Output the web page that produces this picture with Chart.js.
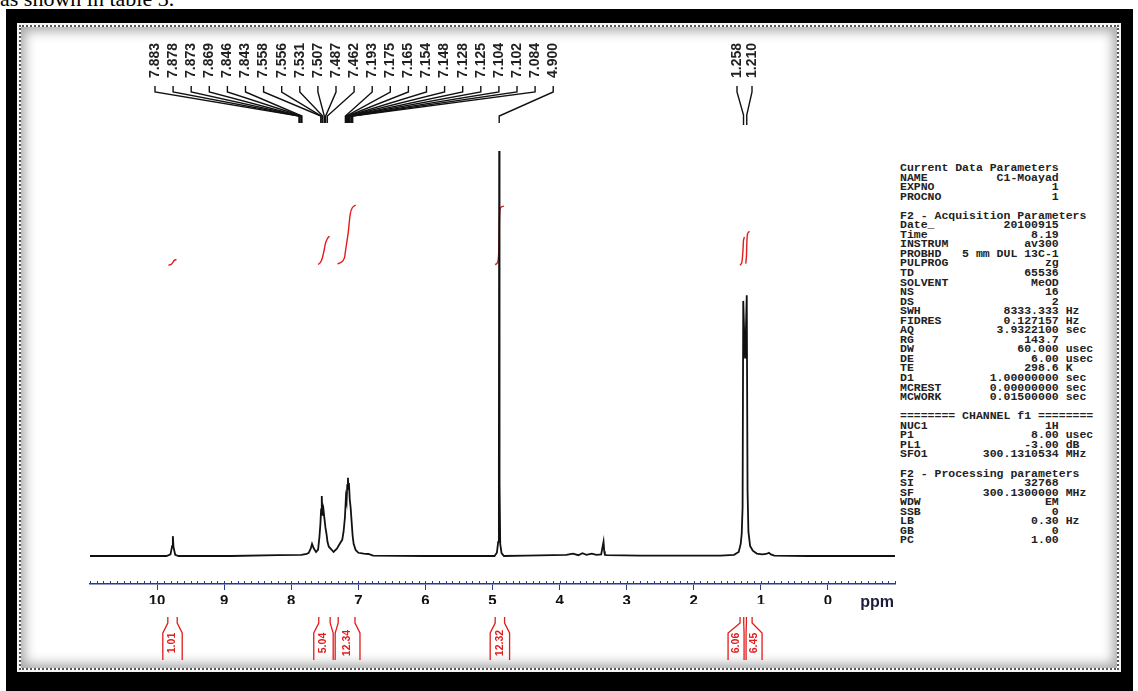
<!DOCTYPE html>
<html>
<head>
<meta charset="utf-8">
<title>1H NMR spectrum</title>
<script src="https://cdn.jsdelivr.net/npm/chart.js@4.4.1/dist/chart.umd.min.js"></script>
<style>
    html, body { margin: 0; padding: 0; background: #fff; }
    body { width: 1138px; height: 691px; position: relative; overflow: hidden; }
    .caption { position: absolute; left: 0; top: -12px; font: 22px "Liberation Serif", serif; line-height: 22px; color: #000; white-space: nowrap; }
    .frame { position: absolute; left: 6px; top: 9px; width: 1127px; height: 700px; background: #000; }
    .inner { position: absolute; left: 17px; top: 23px; width: 1100px; height: 645px; border: 2px solid #f2f2f2; }
    .inner2 { position: absolute; left: 0; top: 0; right: 0; bottom: 0; border: 2px dotted #555; background: #fff; box-shadow: inset 0 0 12px 4px rgba(0,0,0,0.35); }
    #params { position: absolute; left: 900px; top: 163px; font: bold 11.5px "Liberation Mono", monospace; line-height: 9.54px; color: #222; white-space: pre; }
    #nmrChart { position: absolute; left: 0; top: 0; }
</style>
</head>
<body>
<div class="caption">as shown in table 3.</div>
<div class="frame"></div>
<div class="inner"><div class="inner2"></div></div>
<div id="params"></div>
<canvas id="nmrChart" width="1138" height="691"></canvas>

<script>
// spectrum trace (ppm / relative intensity, 4.900 peak = 100)
const specPpm = [11.0, 10.4, 9.86, 9.80, 9.775, 9.765, 9.755, 9.73, 9.68, 8.9, 8.2, 7.85, 7.77,
    7.74, 7.71, 7.69, 7.665, 7.63, 7.60, 7.58, 7.565, 7.555, 7.545, 7.535, 7.52, 7.507, 7.49,
    7.475, 7.46, 7.44, 7.40, 7.37, 7.32, 7.27, 7.24, 7.22, 7.20, 7.185, 7.175, 7.165, 7.155,
    7.148, 7.14, 7.128, 7.115, 7.10, 7.085, 7.07, 7.04, 7.00, 6.92, 6.85, 6.78, 6.0, 5.2,
    4.97, 4.935, 4.915, 4.905, 4.900, 4.895, 4.885, 4.865, 4.83, 4.5, 3.90, 3.80, 3.72, 3.66,
    3.60, 3.52, 3.45, 3.38, 3.345, 3.335, 3.325, 3.30, 2.8, 1.6, 1.40, 1.33, 1.30, 1.285,
    1.272, 1.262, 1.248, 1.236, 1.222, 1.210, 1.198, 1.185, 1.16, 1.12, 1.06, 0.98, 0.92,
    0.88, 0.85, 0.80, 0.3, -1.0];
const specInt = [0, 0, 0, 0.4, 2.5, 4.9, 2.2, 0.3, 0, 0, 0.2, 0.3, 0.5,
    0.8, 1.8, 3.0, 1.9, 1.0, 1.6, 4.7, 8.0, 11.5, 14.8, 10.0, 11.5, 9.5, 7.0,
    5.5, 3.5, 2.3, 1.6, 1.0, 1.8, 3.2, 4.0, 6.0, 9.5, 14.5, 13.5, 17.5, 19.3,
    16.5, 18.0, 14.0, 12.0, 8.5, 5.0, 3.0, 1.5, 0.8, 0.6, 0.5, 0.1, 0, 0,
    0, 0.8, 3.5, 20.0, 100, 18.0, 3.0, 0.7, 0, 0.1, 0.3, 0.6, 0.2, 0.7,
    0.3, 0.6, 0.3, 0.4, 3.5, 1.2, 0.3, 0.2, 0.1, 0.1, 0.3, 1.0, 3.0, 5.5,
    12.0, 63.0, 55.0, 49.0, 56.0, 64.4, 16.0, 6.0, 2.5, 1.3, 0.6, 0.4, 0.5,
    0.8, 0.4, 0.1, 0, 0];

// integral curves (red), same units as the trace
const int1Ppm = [9.83, 9.79, 9.765, 9.745, 9.71];
const int1Val = [71.8, 72.0, 72.5, 73.0, 73.2];
const int2Ppm = [7.60, 7.57, 7.54, 7.51, 7.49, 7.46, 7.43];
const int2Val = [72.0, 72.4, 73.4, 75.5, 77.2, 78.4, 79.0];
const int3Ppm = [7.31, 7.25, 7.21, 7.19, 7.15, 7.12, 7.09, 7.04];
const int3Val = [72.1, 72.6, 73.5, 75.5, 80.0, 84.5, 86.0, 86.7];
const int4Ppm = [4.96, 4.925, 4.91, 4.90, 4.89, 4.87, 4.83];
const int4Val = [71.9, 72.5, 74.0, 80.0, 85.5, 86.2, 86.4];
const int5Ppm = [1.31, 1.285, 1.268, 1.258, 1.245];
const int5Val = [71.8, 72.4, 75.0, 78.0, 78.8];
const int6Ppm = [1.225, 1.215, 1.208, 1.198, 1.17];
const int6Val = [72.2, 74.0, 77.5, 79.6, 80.2];

// integral regions under the axis: [from ppm, to ppm], value
const integralRanges = [[9.84, 9.70], [7.59, 7.42], [7.30, 7.05], [4.96, 4.82], [1.31, 1.255], [1.215, 1.13]];
const integralLabels = ['1.01', '5.04', '12.34', '12.32', '6.06', '6.45'];

// peak pick labels above the trace
const peakListMain = [7.883, 7.878, 7.873, 7.869, 7.846, 7.843, 7.558, 7.556, 7.531, 7.507, 7.487,
    7.462, 7.193, 7.175, 7.165, 7.154, 7.148, 7.128, 7.125, 7.104, 7.102, 7.084, 4.900];
const peakListEthyl = [1.258, 1.210];

const axisTicks = [10, 9, 8, 7, 6, 5, 4, 3, 2, 1, 0];

const paramLines = [
    ['Current Data Parameters'],
    ['NAME', 'C1-Moayad'],
    ['EXPNO', '1'],
    ['PROCNO', '1'],
    [''],
    ['F2 - Acquisition Parameters'],
    ['Date_', '20100915'],
    ['Time', '8.19'],
    ['INSTRUM', 'av300'],
    ['PROBHD', '5 mm DUL 13C-1'],
    ['PULPROG', 'zg'],
    ['TD', '65536'],
    ['SOLVENT', 'MeOD'],
    ['NS', '16'],
    ['DS', '2'],
    ['SWH', '8333.333', 'Hz'],
    ['FIDRES', '0.127157', 'Hz'],
    ['AQ', '3.9322100', 'sec'],
    ['RG', '143.7'],
    ['DW', '60.000', 'usec'],
    ['DE', '6.00', 'usec'],
    ['TE', '298.6', 'K'],
    ['D1', '1.00000000', 'sec'],
    ['MCREST', '0.00000000', 'sec'],
    ['MCWORK', '0.01500000', 'sec'],
    [''],
    ['======== CHANNEL f1 ========'],
    ['NUC1', '1H'],
    ['P1', '8.00', 'usec'],
    ['PL1', '-3.00', 'dB'],
    ['SFO1', '300.1310534', 'MHz'],
    [''],
    ['F2 - Processing parameters'],
    ['SI', '32768'],
    ['SF', '300.1300000', 'MHz'],
    ['WDW', 'EM'],
    ['SSB', '0'],
    ['LB', '0.30', 'Hz'],
    ['GB', '0'],
    ['PC', '1.00']
];

const NAVY = '#2b3a8f';
const RED = '#e21b1b';

document.getElementById('params').textContent = paramLines.map(p => {
    if (p.length === 1) return p[0];
    const head = p[0] + p[1].padStart(23 - p[0].length);
    return p[2] ? head + ' ' + p[2] : head;
}).join('\n');

function toPoints(xs, ys) {
    return xs.map((x, i) => ({ x: x, y: ys[i] }));
}

function integralSet(xs, ys) {
    return {
        data: toPoints(xs, ys),
        borderColor: RED,
        borderWidth: 1.4,
        pointRadius: 0,
        tension: 0.3
    };
}

const nmrDecor = {
    id: 'nmrDecor',
    afterDraw(chart) {
        const ctx = chart.ctx;
        const xs = chart.scales.x;
        const bottom = chart.chartArea.bottom;

        // minor ticks every 0.1 ppm
        ctx.save();
        ctx.strokeStyle = NAVY;
        ctx.lineWidth = 1;
        for (let i = -10; i <= 110; i++) {
            const px = Math.round(xs.getPixelForValue(i / 10)) + 0.5;
            ctx.beginPath();
            ctx.moveTo(px, bottom - 3);
            ctx.lineTo(px, bottom);
            ctx.stroke();
        }

        ctx.fillStyle = '#1c1c3c';
        ctx.font = 'bold 16px "Liberation Sans", Arial, sans-serif';
        ctx.textAlign = 'right';
        ctx.textBaseline = 'middle';
        ctx.fillText('ppm', chart.chartArea.right - 1, 603);

        // peak pick labels
        ctx.font = 'bold 14px "Liberation Sans", Arial, sans-serif';
        ctx.fillStyle = '#222';
        ctx.strokeStyle = '#111';
        ctx.lineWidth = 1.4;
        const drawPeak = (val, lx, bendY, endY) => {
            const px = xs.getPixelForValue(val);
            ctx.beginPath();
            ctx.moveTo(lx, 86);
            ctx.lineTo(lx, 92);
            ctx.lineTo(px, bendY);
            ctx.lineTo(px, endY);
            ctx.stroke();
            ctx.save();
            ctx.translate(lx, 78);
            ctx.rotate(-Math.PI / 2);
            ctx.textAlign = 'left';
            ctx.fillText(val.toFixed(3), 0, 0);
            ctx.restore();
        };
        peakListMain.forEach((v, i) => drawPeak(v, 155 + i * 18.1, 116, 123));
        peakListEthyl.forEach((v, i) => drawPeak(v, 737 + i * 15, 115, 125));

        // integral brackets below the axis
        ctx.strokeStyle = RED;
        ctx.fillStyle = RED;
        ctx.lineWidth = 1.3;
        ctx.font = 'bold 10.5px "Liberation Sans", Arial, sans-serif';
        const edges = integralRanges.map(r => [xs.getPixelForValue(r[0]), xs.getPixelForValue(r[1])]);
        edges.forEach((e, i) => {
            let fl = 5, fr = 5;
            let tightL = false, tightR = false;
            edges.forEach((o, j) => {
                if (j === i) return;
                const gl = e[0] - o[1];
                if (gl >= 0 && gl < 14) { fl = Math.max(0, Math.min(fl, gl / 2 - 1)); tightL = true; }
                const gr = o[0] - e[1];
                if (gr >= 0 && gr < 14) { fr = Math.max(0, Math.min(fr, gr / 2 - 1)); tightR = true; }
            });
            // narrow regions open out so the value still fits
            const need = 16 - (e[1] - e[0] + fl + fr);
            if (need > 0) {
                if (tightR && !tightL) fl += need;
                else if (tightL && !tightR) fr += need;
                else { fl += need / 2; fr += need / 2; }
            }
            ctx.beginPath();
            ctx.moveTo(e[0], 617);
            ctx.lineTo(e[0], 623);
            ctx.lineTo(e[0] - fl, 633);
            ctx.lineTo(e[0] - fl, 660);
            ctx.moveTo(e[1], 617);
            ctx.lineTo(e[1], 623);
            ctx.lineTo(e[1] + fr, 633);
            ctx.lineTo(e[1] + fr, 660);
            ctx.stroke();
            ctx.save();
            ctx.translate((e[0] - fl + e[1] + fr) / 2, 643);
            ctx.rotate(-Math.PI / 2);
            ctx.textAlign = 'center';
            ctx.textBaseline = 'middle';
            ctx.fillText(integralLabels[i], 0, 0);
            ctx.restore();
        });
        ctx.restore();
    }
};

new Chart(document.getElementById('nmrChart'), {
    type: 'line',
    data: {
        datasets: [
            {
                data: toPoints(specPpm, specInt),
                borderColor: '#111',
                borderWidth: 1.8,
                pointRadius: 0,
                tension: 0
            },
            integralSet(int1Ppm, int1Val),
            integralSet(int2Ppm, int2Val),
            integralSet(int3Ppm, int3Val),
            integralSet(int4Ppm, int4Val),
            integralSet(int5Ppm, int5Val),
            integralSet(int6Ppm, int6Val)
        ]
    },
    options: {
        responsive: false,
        animation: false,
        devicePixelRatio: 1,
        layout: { padding: { left: 90, right: 243, top: 130, bottom: 87 } },
        plugins: { legend: { display: false }, tooltip: { enabled: false } },
        scales: {
            x: {
                type: 'linear',
                reverse: true,
                min: -1,
                max: 11,
                afterFit: (scale) => { scale.height = 20; },
                afterBuildTicks: (scale) => { scale.ticks = axisTicks.map(v => ({ value: v })); },
                border: { display: true, color: NAVY, width: 1.5 },
                grid: { drawOnChartArea: false, drawTicks: true, tickLength: 6, color: NAVY },
                ticks: {
                    autoSkip: false,
                    maxRotation: 0,
                    padding: 2,
                    color: '#111',
                    font: { family: '"Liberation Sans", Arial, sans-serif', size: 15, weight: 'bold' }
                }
            },
            y: { display: false, min: -6.91, max: 105.2 }
        }
    },
    plugins: [nmrDecor]
});
</script>
</body>
</html>
